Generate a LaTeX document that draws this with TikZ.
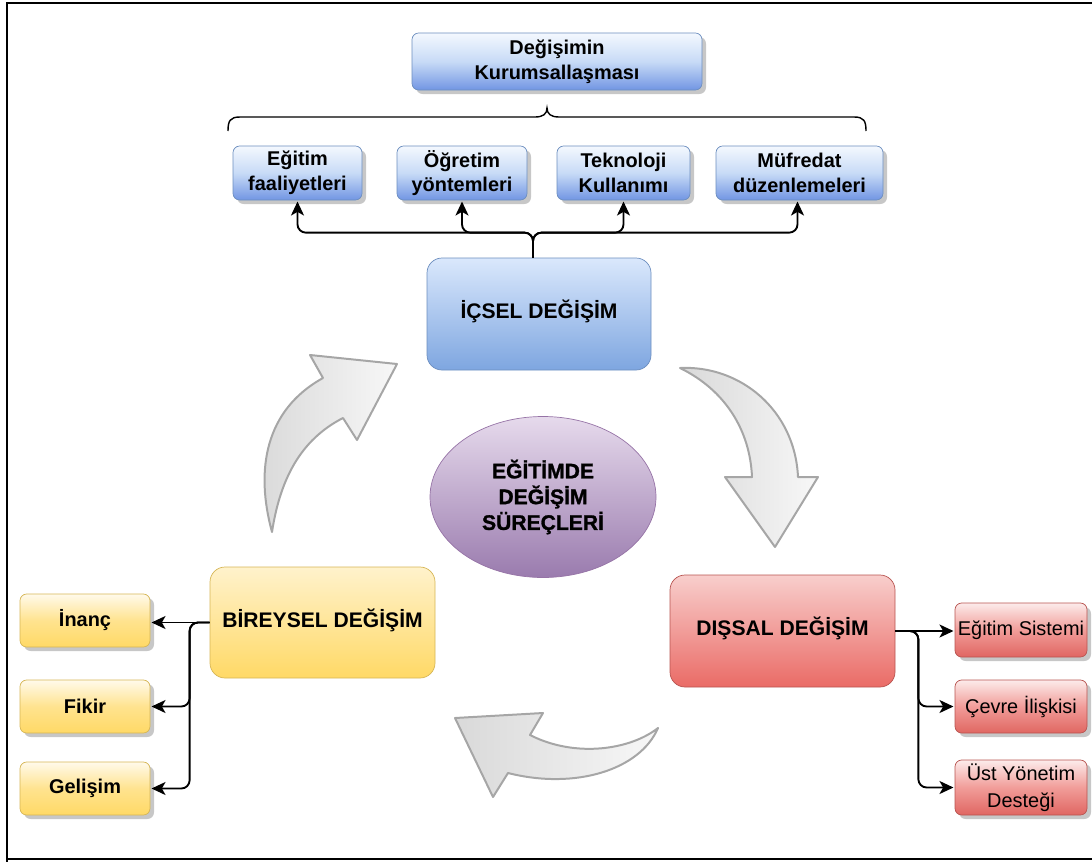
\documentclass[tikz,border=0pt]{standalone}
\usepackage{fontspec}
\setmainfont{Liberation Sans}
\newfontfamily\heavyfont[FakeBold=1.3]{Liberation Sans Bold}
\usetikzlibrary{shapes.geometric,arrows.meta,shadows}

% one unit of the drawing grid
\def\pp{0.03cm}

\definecolor{blueline}{HTML}{6C8EBF}
\definecolor{bluetop}{HTML}{DAE8FC}
\definecolor{bluebot}{HTML}{7EA6E0}
\definecolor{yelline}{HTML}{D6B656}
\definecolor{yeltop}{HTML}{FFF2CC}
\definecolor{yelbot}{HTML}{FFD966}
\definecolor{redline}{HTML}{B85450}
\definecolor{redtop}{HTML}{F8CECC}
\definecolor{redbot}{HTML}{EA6B66}
\definecolor{purline}{HTML}{9673A6}
\definecolor{purtop}{HTML}{E6DAEC}
\definecolor{purbot}{HTML}{9A7BAE}
\definecolor{arrline}{HTML}{A6A6A6}

\tikzset{
  base/.style={rounded corners=2mm, inner sep=0pt, align=center, line width=0.6pt},
  shadowed/.style={drop shadow={shadow xshift=1.2mm, shadow yshift=-1.2mm, fill=black!40, opacity=0.55}},
  smallbox/.style={base, shadowed, font=\fontsize{17}{21}\selectfont\bfseries},
  bluegloss/.style={smallbox, draw=blueline, top color=white!70!bluetop, bottom color=bluebot!90!blue, middle color=bluetop!80!bluebot},
  yelgloss/.style={smallbox, draw=yelline, top color=white!60!yeltop, bottom color=yelbot, middle color=yeltop!40!yelbot},
  redgloss/.style={smallbox, draw=redline, top color=white!60!redtop, bottom color=redbot!80!redline, middle color=redtop!50!redbot, font=\fontsize{17}{23}\selectfont},
  bigbox/.style={base, rounded corners=4.5mm, font=\fontsize{18}{22}\selectfont\bfseries},
  conn/.style={line width=1.6pt, rounded corners=2.5mm, -{Stealth[length=4.2mm,width=3.9mm,inset=1.1mm]}, shorten >=1pt},
  blockarrow/.style={draw=arrline, line width=1.7pt, line join=round, left color=black!15, right color=black!3},
}

\begin{document}
\begin{tikzpicture}[x=0.03cm, y=-0.03cm]
\useasboundingbox (0,0) rectangle (1092,861);

% outer frame
\draw[line width=1.7pt] (7,870) -- (7,3) -- (1100,3);
\draw[line width=1.7pt] (7,859) -- (1100,859);

% top level
\node[bluegloss, minimum width=290*\pp, minimum height=57*\pp] (kur) at (557,61.5) {Değişimin\\Kurumsallaşması};

% brace under the top box
\draw[line width=1.2pt] (228,131) .. controls (228,121) and (230,117) .. (240,117) -- (535,117)
  .. controls (543,117) and (547,114) .. (547,108) .. controls (547,114) and (551,117) .. (559,117)
  -- (854,117) .. controls (864,117) and (866,121) .. (866,131);

% second row
\node[bluegloss, minimum width=129*\pp, minimum height=54*\pp] (e1) at (297.5,173) {Eğitim\\faaliyetleri};
\node[bluegloss, minimum width=130*\pp, minimum height=54*\pp] (e2) at (462,173) {Öğretim\\yöntemleri};
\node[bluegloss, minimum width=133*\pp, minimum height=54*\pp] (e3) at (623.5,173) {Teknoloji\\Kullanımı};
\node[bluegloss, minimum width=167*\pp, minimum height=54*\pp] (e4) at (799.5,173) {Müfredat\\düzenlemeleri};

% main boxes (labels sit a little above the middle)
\node[bigbox, draw=blueline, top color=bluetop, bottom color=bluebot, minimum width=224*\pp, minimum height=112*\pp, text depth=8pt] (ic) at (539,314) {İÇSEL DEĞİŞİM};
\node[bigbox, draw=yelline, top color=yeltop, bottom color=yelbot, minimum width=225*\pp, minimum height=111*\pp, text depth=8pt] (bi) at (322.5,622.5) {BİREYSEL DEĞİŞİM};
\node[bigbox, draw=redline, top color=redtop, bottom color=redbot, minimum width=225*\pp, minimum height=112*\pp, text depth=8pt] (di) at (782.5,631) {DIŞSAL DEĞİŞİM};

% centre
\node[ellipse, draw=purline, line width=0.6pt, top color=purtop, bottom color=purbot, minimum width=226*\pp, minimum height=161*\pp, align=center, inner sep=0pt, font=\fontsize{18}{22}\selectfont\heavyfont\bfseries] (ce) at (543,497) {EĞİTİMDE\\DEĞİŞİM\\SÜREÇLERİ};

% left children
\node[yelgloss, minimum width=130*\pp, minimum height=53*\pp] (b1) at (85,620.5) {İnanç};
\node[yelgloss, minimum width=130*\pp, minimum height=53*\pp] (b2) at (85,706.5) {Fikir};
\node[yelgloss, minimum width=130*\pp, minimum height=53*\pp] (b3) at (85,788.5) {Gelişim};

% right children
\node[redgloss, minimum width=132*\pp, minimum height=54*\pp] (d1) at (1021,630) {Eğitim Sistemi};
\node[redgloss, minimum width=132*\pp, minimum height=53*\pp] (d2) at (1021,706.5) {Çevre İlişkisi};
\node[redgloss, minimum width=132*\pp, minimum height=55*\pp] (d3) at (1021,787.5) {Üst Yönetim\\Desteği};

% connectors from the inner change box
\coordinate (icstem) at ([xshift=-6*\pp]ic.north);
\coordinate (e4in) at ([xshift=-2*\pp]e4.south);
\draw[conn] (icstem) -- ++(0,-25) -| (e1.south);
\draw[conn] (icstem) -- ++(0,-25) -| (e2.south);
\draw[conn] (icstem) -- ++(0,-25) -| (e3.south);
\draw[conn] (icstem) -- ++(0,-25) -| (e4in);

% connectors from the individual change box
\coordinate (biout) at (bi.west |- bi.center);
\draw[conn] (biout) -- (biout -| b1.east);
\draw[conn] (biout) -- ++(-20,0) |- (b2.east);
\draw[conn] (biout) -- ++(-20,0) |- (b3.east);

% connectors from the external change box
\coordinate (diout) at (di.east |- di.center);
\draw[conn] (diout) -- (diout -| d1.west);
\draw[conn] (diout) -- ++(23,0) |- (d2.west);
\draw[conn] (diout) -- ++(23,0) |- (d3.west);

% cycle arrows
\path[blockarrow] (272,532) .. controls (255,470) and (265,410) .. (323,378) -- (310,355) -- (397,364)
  -- (357,440) -- (343,418) .. controls (300,440) and (280,480) .. (272,532) -- cycle;
\path[blockarrow] (680,368) .. controls (740,365) and (795,410) .. (798,477) -- (818,477) -- (775,547)
  -- (725,477) -- (752,477) .. controls (750,430) and (725,390) .. (680,368) -- cycle;
\path[blockarrow] (455,718) -- (543,713) -- (530,735) .. controls (575,758) and (630,750) .. (658,728)
  .. controls (640,770) and (575,790) .. (508,773) -- (493,797) -- cycle;
\end{tikzpicture}
\end{document}
